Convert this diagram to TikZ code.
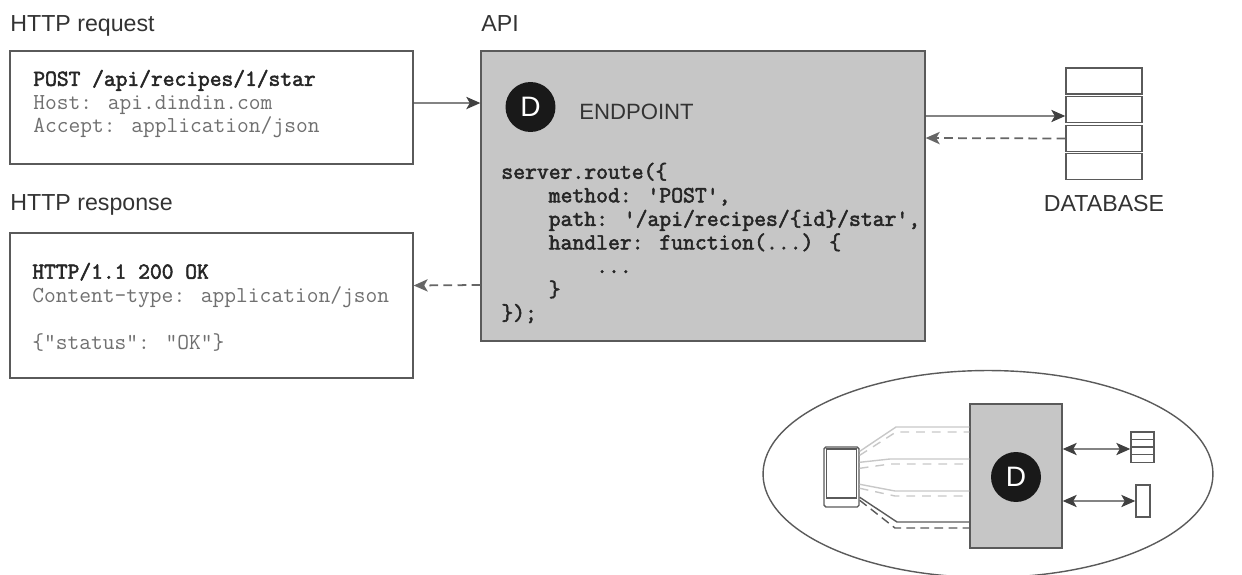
\documentclass[tikz,border=0pt]{standalone}
\usepackage{fontspec}
\setsansfont{Liberation Sans}
\newfontfamily\codebf{Latin Modern Mono}[FakeBold=2.4]
\usetikzlibrary{shapes.geometric, arrows.meta}

\definecolor{boxgrey}{HTML}{C6C6C6}
\definecolor{linegrey}{HTML}{5A5A5A}
\definecolor{textgrey}{HTML}{707070}
\definecolor{ghostgrey}{HTML}{C8C8C8}

\newcommand{\ind}{\phantom{xxxx}}

\tikzset{
    label/.style={anchor=west, inner sep=0pt, font=\sffamily\fontsize{13.2}{15}\selectfont, text=black!80},
    code/.style={anchor=west, inner sep=0pt, align=left, font=\ttfamily\fontsize{13}{13.4}\selectfont, text=textgrey},
    panel/.style={draw=linegrey, line width=0.8pt, inner sep=0pt, fill=white},
    dbrow/.style={panel, minimum width=1.52cm, minimum height=0.52cm},
    badge/.style={circle, fill=black!90, text=white, inner sep=0pt, minimum size=1cm, font=\sffamily\fontsize{16}{16}\selectfont},
    flow/.style={->, line width=0.8pt, draw=black!75},
    flowboth/.style={<->, line width=0.8pt, draw=black!75},
    back/.style={->, line width=1pt, dash pattern=on 5pt off 3pt, draw=black!60},
    ghost/.style={line width=0.8pt, draw=ghostgrey},
    ghostdash/.style={ghost, dash pattern=on 5pt off 4pt}
}

\begin{document}
\begin{tikzpicture}[>={Stealth[length=8pt, width=7pt, inset=2pt]}, x=0.02cm, y=-0.02cm]
    \useasboundingbox (0, 0) rectangle (1242, 575);

    % Request
    \node[label] at (10, 26) (requestLabel) {HTTP request};
    \node[panel, minimum width=8.06cm, minimum height=2.26cm] at (211.5, 107.5) (request) {};
    \node[code] at (33, 104) (requestText) {{\codebf\textcolor{black!85}{POST /api/recipes/1/star}}\\Host: api.dindin.com\\Accept: application/json};

    % Response
    \node[label] at (10, 205) (responseLabel) {HTTP response};
    \node[panel, minimum width=8.06cm, minimum height=2.9cm] at (211.5, 305.5) (response) {};
    \node[code] at (32, 307) (responseText) {{\codebf\textcolor{black!85}{HTTP/1.1 200 OK}}\\Content-type: application/json\\\mbox{}\\\{"status": "OK"\}};

    % API
    \node[label] at (481, 24) (apiLabel) {API};
    \node[panel, fill=boxgrey, minimum width=8.88cm, minimum height=5.8cm] at (703, 196) (api) {};
    \node[badge] at (530.5, 107) (badge) {D};
    \node[label, font=\sffamily\fontsize{12.6}{15}\selectfont] at (579, 112) (endpoint) {ENDPOINT};
    \node[code, text=black!85, font=\codebf\fontsize{13.1}{13.4}\selectfont] at (501, 243) (apiCode) {server.route(\{\\
        \ind method: 'POST',\\
        \ind path: '/api/recipes/\{id\}/star',\\
        \ind handler: function(...) \{\\
        \ind\ind ...\\
        \ind\}\\
        \});};

    % Database
    \node[dbrow] at (1104, 81) (dbA) {};
    \node[dbrow] at (1104, 109.5) (dbB) {};
    \node[dbrow] at (1104, 138.5) (dbC) {};
    \node[dbrow] at (1104, 166.5) (dbD) {};
    \node[label, anchor=center] at (1104, 204) (dbLabel) {DATABASE};

    % Connections
    \draw[flow] ([yshift=0.09cm]request.east) -- ([yshift=1.86cm]api.west);
    \draw[back] ([yshift=-1.78cm]api.west) -- ([yshift=0.4cm]response.east);
    \draw[flow] ([yshift=1.6cm]api.east) -- ([yshift=-0.13cm]dbB.west);
    \draw[back] (dbC.west) -- ([yshift=1.16cm]api.east);

    % Overview
    \node[draw=linegrey, line width=0.8pt, ellipse, inner sep=0pt, minimum width=9cm, minimum height=4.14cm] at (988, 474) (overview) {};
    \node[panel, fill=boxgrey, minimum width=1.84cm, minimum height=2.88cm] at (1016, 476) (miniApi) {};
    \node[badge] at (1016, 477) (miniBadge) {D};

    % Tablet
    \node[panel, minimum width=0.7cm, minimum height=1.2cm, rounded corners=1pt] at (841.5, 477) (tablet) {};
    \node[panel, minimum width=0.6cm, minimum height=0.98cm] at (841.5, 473.5) (screen) {};

    % Mini database
    \node[panel, minimum width=0.46cm, minimum height=0.16cm] at (1142.5, 436) (miniA) {};
    \node[panel, minimum width=0.46cm, minimum height=0.16cm] at (1142.5, 443.5) (miniB) {};
    \node[panel, minimum width=0.46cm, minimum height=0.16cm] at (1142.5, 451) (miniC) {};
    \node[panel, minimum width=0.46cm, minimum height=0.16cm] at (1142.5, 458.5) (miniD) {};
    \node[panel, minimum width=0.28cm, minimum height=0.64cm] at (1143, 501) (device) {};

    \draw[flowboth] ([yshift=0.54cm]miniApi.east) -- ([yshift=-0.11cm]miniB.west);
    \draw[flowboth] ([yshift=-0.5cm]miniApi.east) -- (device.west);

    % Traffic lines
    \draw[ghost] ([yshift=-0.1cm]tablet.north east) -- (896, 427) -- ([yshift=0.98cm]miniApi.west);
    \draw[ghostdash] ([yshift=-0.18cm]tablet.north east) -- (896, 432) -- ([yshift=0.88cm]miniApi.west);
    \draw[ghost] ([yshift=-0.32cm]tablet.north east) -- (890, 459) -- ([yshift=0.34cm]miniApi.west);
    \draw[ghostdash] ([yshift=-0.44cm]tablet.north east) -- (890, 464) -- ([yshift=0.24cm]miniApi.west);
    \draw[ghost] ([yshift=-0.76cm]tablet.north east) -- (895, 491) -- ([yshift=-0.3cm]miniApi.west);
    \draw[ghostdash] ([yshift=-0.84cm]tablet.north east) -- (895, 496) -- ([yshift=-0.4cm]miniApi.west);
    \draw[line width=0.8pt, draw=linegrey] ([yshift=-1.02cm]tablet.north east) -- (897, 522) -- ([yshift=-0.92cm]miniApi.west);
    \draw[line width=0.8pt, draw=linegrey, dash pattern=on 5pt off 3pt] ([yshift=-1.08cm]tablet.north east) -- (895, 528) -- ([yshift=-1.04cm]miniApi.west);
\end{tikzpicture}
\end{document}
